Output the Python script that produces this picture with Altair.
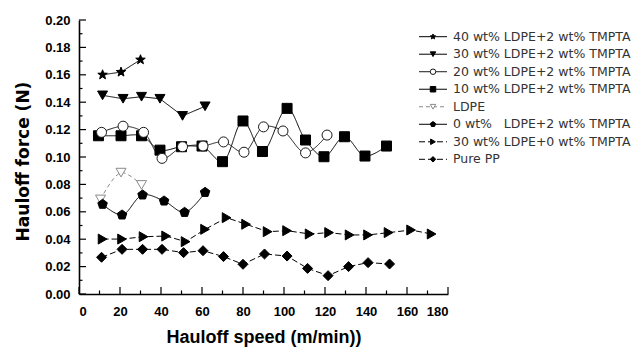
import math
import altair as alt
import pandas as pd

# ---- series (hauloff speed in m/min, hauloff force in N) ----
names = [
    "40 wt% LDPE+2 wt% TMPTA",
    "30 wt% LDPE+2 wt% TMPTA",
    "20 wt% LDPE+2 wt% TMPTA",
    "10 wt% LDPE+2 wt% TMPTA",
    "\u00a0LDPE",
    "0 wt%\u00a0\u00a0\u00a0LDPE+2 wt% TMPTA",
    "30 wt% LDPE+0 wt% TMPTA",
    "Pure PP",
]

speed_40 = [11.5, 20.5, 30]
force_40 = [0.160, 0.162, 0.171]

speed_30 = [11.5, 21.5, 30.5, 39.5, 50.5, 61.5]
force_30 = [0.145, 0.1425, 0.144, 0.1425, 0.130, 0.137]

speed_20 = [11, 21.5, 31.5, 40.5, 50.5, 60.5, 70.5, 80.5, 90, 99.5, 110.5, 121]
force_20 = [0.118, 0.1225, 0.118, 0.099, 0.1075, 0.108, 0.111, 0.1035, 0.122, 0.119, 0.103, 0.116]

speed_10 = [9.5, 20.5, 30.5, 39.5, 50, 60, 70, 80, 89.5, 101.5, 110.5, 119.5, 129.5, 139.5, 150]
force_10 = [0.1155, 0.1155, 0.1155, 0.105, 0.1075, 0.108, 0.0966, 0.1263, 0.104, 0.1355,
            0.1124, 0.1002, 0.1148, 0.1007, 0.108]

speed_ldpe = [10.5, 20.5, 30.5]
force_ldpe = [0.069, 0.0886, 0.0796]

speed_0 = [11.5, 21, 31, 41.5, 51.5, 61.5]
force_0 = [0.0655, 0.0577, 0.0723, 0.0679, 0.0596, 0.0742]

speed_30_0 = [11.5, 21, 31.5, 42.5, 52, 61.5, 72, 81.5, 92, 101.5, 112.5, 122, 132, 141, 151, 162, 172]
force_30_0 = [0.0401, 0.0401, 0.0418, 0.0423, 0.0382, 0.0472, 0.0557, 0.0509, 0.0455, 0.0462,
              0.0438, 0.0448, 0.0431, 0.0431, 0.0448, 0.0467, 0.0438]

speed_pp = [11, 21, 31, 40.5, 51, 60.5, 70.5, 80, 90.5, 101.5, 111.5, 121.5, 131.5, 141, 151.5]
force_pp = [0.0268, 0.0326, 0.0326, 0.0326, 0.0302, 0.0316, 0.0273, 0.0217, 0.0292, 0.0277,
            0.0187, 0.0134, 0.020, 0.0229, 0.0219]

x_major_ticks = [0, 20, 40, 60, 80, 100, 120, 140, 160, 180]
x_minor_ticks = [10, 30, 50, 70, 90, 110, 130, 150, 170]
y_major_ticks = [0.0, 0.02, 0.04, 0.06, 0.08, 0.10, 0.12, 0.14, 0.16, 0.18, 0.20]
y_minor_ticks = [0.01, 0.03, 0.05, 0.07, 0.09, 0.11, 0.13, 0.15, 0.17, 0.19]

# drawing order of the markers: open circles go over the squares
series = [
    (names[0], speed_40, force_40),
    (names[1], speed_30, force_30),
    (names[3], speed_10, force_10),
    (names[2], speed_20, force_20),
    (names[4], speed_ldpe, force_ldpe),
    (names[5], speed_0, force_0),
    (names[6], speed_30_0, force_30_0),
    (names[7], speed_pp, force_pp),
]
rows = []
for name, xs, ys in series:
    for x, y in zip(xs, ys):
        rows.append({"series": name, "speed": x, "force": y, "k": len(rows)})
df = pd.DataFrame(rows)
legend_df = pd.DataFrame({"series": names})


# ---- marker shapes ----
def star_path(inner=0.42):
    pts = []
    for k in range(10):
        r = 1.0 if k % 2 == 0 else inner
        a = math.radians(-90 + 36 * k)
        pts.append(f"{r * math.cos(a):.3f},{r * math.sin(a):.3f}")
    return "M" + "L".join(pts) + "Z"


def pentagon_path():
    pts = []
    for k in range(5):
        a = math.radians(-90 + 72 * k)
        pts.append(f"{math.cos(a):.3f},{math.sin(a):.3f}")
    return "M" + "L".join(pts) + "Z"


shapes = [star_path(), "triangle-down", "circle", "square", "triangle-down",
          pentagon_path(), "triangle-right", "diamond"]
fills = ["black", "black", "white", "black", "white", "black", "black", "black"]
strokes = ["black", "black", "#1a1a1a", "black", "#8a8a8a", "black", "black", "black"]
dashes = [[1, 0], [1, 0], [1, 0], [1, 0], [4, 3], [1, 0], [6, 3], [6, 3]]
sizes = [100, 100, 90, 64, 100, 85, 85, 95]
legend_sizes = [30, 30, 10, 30, 30, 30, 30, 30]

shape_scale = alt.Scale(domain=names, range=shapes)
fill_scale = alt.Scale(domain=names, range=fills)
stroke_scale = alt.Scale(domain=names, range=strokes)
dash_scale = alt.Scale(domain=names, range=dashes)

W, H = 369, 274

x_axis = alt.Axis(values=x_major_ticks, format="d", ticks=False, tickSize=0, grid=False,
                  labelPadding=11, labelFont="Liberation Sans", labelFontWeight="bold",
                  labelFontSize=13, labelColor="black", domainColor="black", domainWidth=1.6,
                  title="Hauloff speed (m/min))", titleFont="Liberation Sans",
                  titleFontWeight="bold", titleFontSize=18, titleColor="black",
                  titleY=48, titleBaseline="alphabetic")
y_axis = alt.Axis(values=y_major_ticks, format=".2f", ticks=False, tickSize=0, grid=False,
                  labelPadding=9, labelFont="Liberation Sans", labelFontWeight="bold",
                  labelFontSize=13, labelColor="black", domainColor="black", domainWidth=1.6,
                  title="Hauloff force (N)", titleFont="DejaVu Sans", titleFontWeight="bold",
                  titleFontSize=17, titleColor="black", titleAngle=-90, titleX=-51,
                  titleY=141, titleBaseline="alphabetic", titleAlign="center")

x_scale = alt.Scale(domain=[0, 180], nice=False, zero=False)
y_scale = alt.Scale(domain=[0, 0.2], nice=False)

X = alt.X("speed:Q", scale=x_scale, axis=x_axis)
Y = alt.Y("force:Q", scale=y_scale, axis=y_axis)

smooth_names = [names[2], names[3], names[4], names[5]]
straight_names = [n for n in names if n not in smooth_names]

line_enc = dict(
    x=X, y=Y,
    stroke=alt.Stroke("series:N", scale=stroke_scale, legend=None),
    strokeDash=alt.StrokeDash("series:N", scale=dash_scale, legend=None),
    detail="series:N",
)

smooth_lines = alt.Chart(df).mark_line(interpolate="catmull-rom", strokeWidth=1).encode(
    **line_enc).transform_filter(alt.FieldOneOfPredicate(field="series", oneOf=smooth_names))
straight_lines = alt.Chart(df).mark_line(strokeWidth=1).encode(
    **line_enc).transform_filter(alt.FieldOneOfPredicate(field="series", oneOf=straight_names))

points = alt.Chart(df).mark_point(filled=True, opacity=1, strokeWidth=1).encode(
    x=X, y=Y,
    shape=alt.Shape("series:N", scale=shape_scale, legend=None),
    fill=alt.Fill("series:N", scale=fill_scale, legend=None),
    stroke=alt.Stroke("series:N", scale=stroke_scale, legend=None),
    size=alt.Size("series:N", scale=alt.Scale(domain=names, range=sizes), legend=None),
    order=alt.Order("k:Q"),
)

# inward tick marks on both axes
xt_major = alt.Chart(pd.DataFrame({"speed": x_major_ticks})).mark_rule(
    color="black", strokeWidth=1.2).encode(x=X, y=alt.value(H), y2=alt.value(H - 7))
xt_minor = alt.Chart(pd.DataFrame({"speed": x_minor_ticks})).mark_rule(
    color="black", strokeWidth=1.2).encode(x=X, y=alt.value(H), y2=alt.value(H - 3.5))
yt_major = alt.Chart(pd.DataFrame({"force": y_major_ticks})).mark_rule(
    color="black", strokeWidth=1.2).encode(y=Y, x=alt.value(0), x2=alt.value(7))
yt_minor = alt.Chart(pd.DataFrame({"force": y_minor_ticks})).mark_rule(
    color="black", strokeWidth=1.2).encode(y=Y, x=alt.value(0), x2=alt.value(3.5))

main = alt.layer(smooth_lines, straight_lines, points, xt_major, xt_minor, yt_major, yt_minor)

# legend block in the upper right
LY = alt.Y("series:N", scale=alt.Scale(type="point", domain=names, range=[16.7, 139.3], padding=0),
           axis=None)
leg_lines = alt.Chart(legend_df).mark_rule(strokeWidth=1).encode(
    y=LY, x=alt.value(340), x2=alt.value(368),
    stroke=alt.Stroke("series:N", scale=stroke_scale, legend=None),
    strokeDash=alt.StrokeDash("series:N", scale=dash_scale, legend=None),
)
leg_points = alt.Chart(legend_df).mark_point(filled=True, opacity=1, strokeWidth=1).encode(
    y=LY, x=alt.value(354),
    shape=alt.Shape("series:N", scale=shape_scale, legend=None),
    fill=alt.Fill("series:N", scale=fill_scale, legend=None),
    stroke=alt.Stroke("series:N", scale=stroke_scale, legend=None),
    size=alt.Size("series:N", scale=alt.Scale(domain=names, range=legend_sizes), legend=None),
)
leg_text = alt.Chart(legend_df).mark_text(
    align="left", baseline="middle", font="DejaVu Sans", fontSize=12.5, color="#333333"
).encode(y=LY, x=alt.value(374), text="series:N")
legend = alt.layer(leg_lines, leg_points, leg_text).resolve_scale(size="independent")

chart = alt.layer(main, legend).resolve_scale(y="independent", size="independent").properties(
    width=W, height=H,
    autosize=alt.AutoSizeParams(type="none"),
    padding={"left": 79, "top": 20, "right": 190, "bottom": 53},
    background="white",
).configure_view(stroke=None)

chart.save("out.html", embed_options={"renderer": "svg", "actions": False})
